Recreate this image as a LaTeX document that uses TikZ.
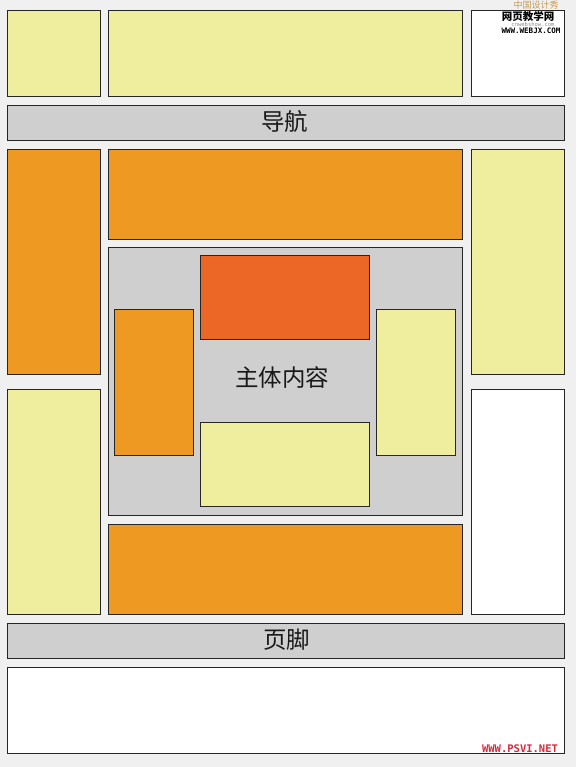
\documentclass[tikz,border=0pt]{standalone}
\usepackage{fontspec}
\newfontfamily\cjk{Noto Sans CJK SC}
\newfontfamily\wmfont{DejaVu Sans Mono}
\definecolor{bgc}{HTML}{F0F0F0}
\definecolor{yel}{HTML}{EEEE9E}
\definecolor{org}{HTML}{EE9922}
\definecolor{redo}{HTML}{EC6626}
\definecolor{gry}{HTML}{CFCFCF}
\definecolor{wmbrown}{HTML}{C89A50}
\definecolor{wmred}{HTML}{D8283C}
\tikzset{
  lbox/.style={draw=black!85, line width=0.9pt, rectangle, inner sep=0pt, outer sep=0pt, anchor=north west},
  bigtxt/.style={font=\cjk\fontsize{23.5}{26}\selectfont, text=black!90}
}
\newcommand\layoutbox[6]{% name, x1, y1, x2, y2, fill
  \node[lbox, fill=#6, minimum width=#4pt-#2pt, minimum height=#5pt-#3pt] (#1) at (#2pt,-#3pt) {};}
\begin{document}
\begin{tikzpicture}[x=1pt,y=1pt]
\fill[bgc] (0,0) rectangle (576,-767);
\useasboundingbox (0,0) rectangle (576,-767);
% top row
\layoutbox{tl}{7}{10}{100}{96}{yel}
\layoutbox{tm}{108}{10}{462}{96}{yel}
\layoutbox{tr}{471}{10}{564}{96}{white}
% nav
\layoutbox{nav}{7}{105}{564}{140}{gry}
\node[bigtxt] at ([xshift=-1pt,yshift=1pt]nav.center) {导航};
% middle
\layoutbox{lo}{7}{149}{100}{374}{org}
\layoutbox{co}{108}{149}{462}{239}{org}
\layoutbox{ry}{471}{149}{564}{374}{yel}
\layoutbox{main}{108}{247}{462}{515}{gry}
\layoutbox{ired}{200}{255}{369}{339}{redo}
\layoutbox{iorg}{114}{309}{193}{455}{org}
\layoutbox{iyel}{376}{309}{455}{455}{yel}
\layoutbox{iby}{200}{422}{369}{506}{yel}
\node[bigtxt] at (282,-378) {主体内容};
\layoutbox{ly}{7}{389}{100}{614}{yel}
\layoutbox{rw}{471}{389}{564}{614}{white}
\layoutbox{bo}{108}{524}{462}{614}{org}
% footer
\layoutbox{foot}{7}{623}{564}{658}{gry}
\node[bigtxt] at ([xshift=1pt,yshift=1pt]foot.center) {页脚};
\layoutbox{bw}{7}{667}{564}{753}{white}
% watermarks
\node[font=\cjk\fontsize{9}{9}\selectfont, text=wmbrown, inner sep=0pt] at (536,-5) {中国设计秀};
\node[font=\cjk\bfseries\fontsize{10.5}{11}\selectfont, text=black, inner sep=0pt] at (528,-16) {网页教学网};
\node[font=\wmfont\fontsize{5.5}{6}\selectfont, text=black!45, inner sep=0pt] at (533,-24.5) {cnwebshow.com};
\node[font=\wmfont\bfseries\fontsize{7.5}{8}\selectfont, text=black, inner sep=0pt] at (531,-31) {WWW.WEBJX.COM};
\node[font=\wmfont\bfseries\fontsize{10.5}{11}\selectfont, text=wmred, inner sep=0pt] at (520,-749) {WWW.PSVI.NET};
\end{tikzpicture}
\end{document}
